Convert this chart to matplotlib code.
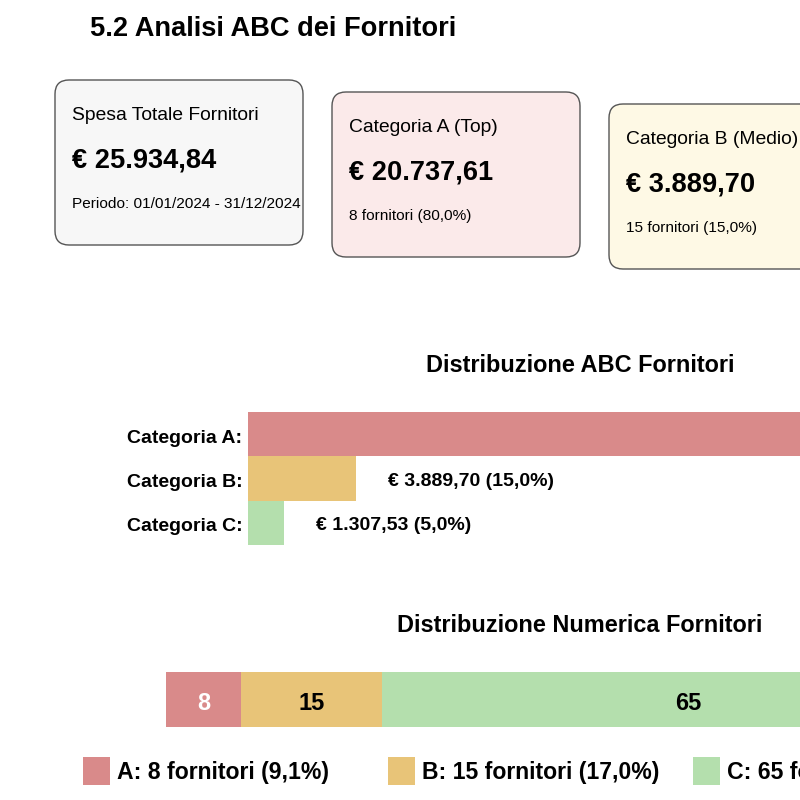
import matplotlib.pyplot as plt
from matplotlib.patches import FancyBboxPatch, Rectangle
from matplotlib.transforms import ScaledTranslation

plt.rcParams['font.family'] = ['Liberation Sans', 'DejaVu Sans']

# dati
categorie = ['A', 'B', 'C']
spesa = [20737.61, 3889.70, 1307.53]
spesa_totale = 25934.84
n_fornitori = [8, 15, 65]
colori = ['#d98a8a', '#e8c478', '#b4dfad']
card_titoli = ['Spesa Totale Fornitori', 'Categoria A (Top)', 'Categoria B (Medio)']
card_valori = [spesa_totale, spesa[0], spesa[1]]
card_sotto = ['Periodo: 01/01/2024 - 31/12/2024', '8 fornitori (80,0%)', '15 fornitori (15,0%)']
card_sfondi = ['#f7f7f7', '#fbeaea', '#fef9e5']


def euro(v):
    s = '{:,.2f}'.format(v)
    return '€ ' + s.replace(',', 'X').replace('.', ',').replace('X', '.')


def perc(v):
    return '{:.1f}%'.format(v).replace('.', ',')


fig = plt.figure(figsize=(8, 8), dpi=100)

# sfondo in coordinate pixel
bg = fig.add_axes([0, 0, 1, 1])
bg.set_xlim(0, 800)
bg.set_ylim(800, 0)
bg.axis('off')

bg.text(90, 29, '5.2 Analisi ABC dei Fornitori', fontsize=19.6, fontweight='bold',
        va='center', ha='left')

# cards
for i in range(3):
    x0 = 55 + i * 277
    y0 = 80 + i * 12
    box = FancyBboxPatch((x0, y0), 248, 165, boxstyle='round,pad=0,rounding_size=14',
                         facecolor=card_sfondi[i], edgecolor='#555555', linewidth=1)
    bg.add_patch(box)
    bg.text(x0 + 17, y0 + 36, card_titoli[i], fontsize=13.9, va='center')
    bg.text(x0 + 17, y0 + 81, euro(card_valori[i]), fontsize=19.6, fontweight='bold', va='center')
    bg.text(x0 + 17, y0 + 124, card_sotto[i], fontsize=11.1, va='center')

# titoli sezioni
bg.text(580, 366, 'Distribuzione ABC Fornitori', fontsize=16.9, fontweight='bold', ha='center', va='center')
bg.text(580, 625, 'Distribuzione Numerica Fornitori', fontsize=16.9, fontweight='bold', ha='center', va='center')

# barre ABC
ax1 = fig.add_axes([248 / 800, (800 - 545) / 800, 720 / 800, 133 / 800])
ypos = range(len(categorie))
ax1.barh(ypos, spesa, height=1.0, color=colori)
ax1.set_xlim(0, spesa_totale)
ax1.set_ylim(2.5, -0.5)
ax1.set_yticks(list(ypos))
ax1.set_yticklabels(['Categoria ' + c + ':' for c in categorie], fontsize=14, fontweight='bold')
ax1.tick_params(axis='y', length=0, pad=4)
for lbl in ax1.get_yticklabels():
    lbl.set_transform(lbl.get_transform() + ScaledTranslation(0, -2 / 100, fig.dpi_scale_trans))
ax1.set_xticks([])
for s in ax1.spines.values():
    s.set_visible(False)
for i, v in enumerate(spesa):
    ax1.annotate(euro(v) + ' (' + perc(v / spesa_totale * 100) + ')', (v, i),
                 xytext=(23, -2), textcoords='offset points', va='center',
                 fontsize=14, fontweight='bold')

# barra numerica
ax2 = fig.add_axes([166 / 800, (800 - 727) / 800, 828 / 800, 55 / 800])
tot = sum(n_fornitori)
left = 0
for i, n in enumerate(n_fornitori):
    ax2.barh(0, n, left=left, height=1.0, color=colori[i])
    ax2.annotate(str(n), (left + n / 2, 0), xytext=(0, -3), textcoords='offset points',
                 ha='center', va='center', fontsize=17, fontweight='bold',
                 color='white' if i == 0 else 'black')
    left += n
ax2.set_xlim(0, tot)
ax2.set_ylim(-0.5, 0.5)
ax2.axis('off')

# legenda
for i, c in enumerate(categorie):
    lx = 83 + i * 305
    bg.add_patch(Rectangle((lx, 757), 27, 28, facecolor=colori[i], edgecolor='none'))
    lbl = c + ': ' + str(n_fornitori[i]) + ' fornitori (' + perc(n_fornitori[i] / tot * 100) + ')'
    bg.text(lx + 34, 772, lbl, fontsize=16.6, fontweight='bold', va='center')

fig.savefig('out.png', dpi=100)
